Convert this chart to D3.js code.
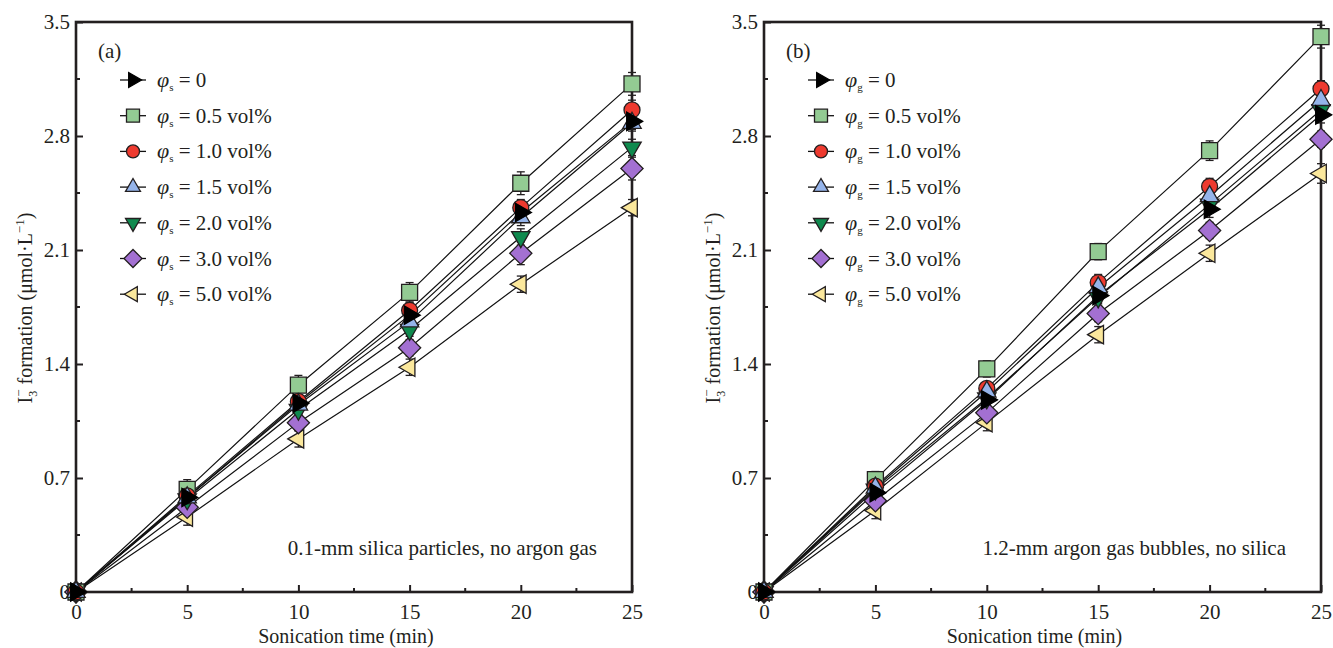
<!DOCTYPE html>
<html>
<head>
<meta charset="utf-8">
<script src="https://cdn.jsdelivr.net/npm/d3@7"></script>
<style>
  body { margin: 0; background: #fff; }
  svg { display: block; font-family: "Liberation Serif", "Times New Roman", serif; }
  .tick text { font-family: "Liberation Serif", "Times New Roman", serif; font-size: 21px; fill: #231f20; }
</style>
</head>
<body>
<script>
// sonication time (min)
var times = [0, 5, 10, 15, 20, 25];
var xTickValues = [0, 5, 10, 15, 20, 25];
var yTickValues = [0, 0.7, 1.4, 2.1, 2.8, 3.5];

// legend text + marker look (same order in both panels)
var legendLabels = ["0", "0.5 vol%", "1.0 vol%", "1.5 vol%", "2.0 vol%", "3.0 vol%", "5.0 vol%"];
var fills = ["#000000", "#93cb93", "#ee3a2f", "#95b4ea", "#0f8a4e", "#a370d2", "#fbe89c"];
var shapes = ["right", "square", "circle", "up", "down", "diamond", "left"];

// (a) silica particles, no argon gas
var silica0   = [0, 0.58, 1.16, 1.70, 2.33, 2.89];
var silica05  = [0, 0.63, 1.27, 1.84, 2.51, 3.12];
var silica10  = [0, 0.59, 1.17, 1.73, 2.36, 2.96];
var silica15  = [0, 0.58, 1.15, 1.66, 2.30, 2.88];
var silica20  = [0, 0.57, 1.12, 1.61, 2.18, 2.73];
var silica30  = [0, 0.52, 1.04, 1.50, 2.08, 2.60];
var silica50  = [0, 0.46, 0.94, 1.38, 1.89, 2.36];

// (b) argon gas bubbles, no silica
var gas0   = [0, 0.61, 1.18, 1.82, 2.35, 2.93];
var gas05  = [0, 0.69, 1.37, 2.09, 2.71, 3.41];
var gas10  = [0, 0.65, 1.25, 1.90, 2.49, 3.09];
var gas15  = [0, 0.64, 1.23, 1.87, 2.43, 3.02];
var gas20  = [0, 0.63, 1.19, 1.81, 2.38, 2.96];
var gas30  = [0, 0.56, 1.10, 1.71, 2.22, 2.78];
var gas50  = [0, 0.50, 1.04, 1.58, 2.08, 2.57];

// error bars (half heights)
var silicaErr = [
  [0, 0.04, 0.04, 0.04, 0.05, 0.05],
  [0, 0.06, 0.06, 0.06, 0.07, 0.07],
  [0, 0.04, 0.04, 0.05, 0.05, 0.06],
  [0, 0.04, 0.04, 0.04, 0.05, 0.05],
  [0, 0.04, 0.04, 0.04, 0.05, 0.05],
  [0, 0.04, 0.05, 0.05, 0.07, 0.07],
  [0, 0.05, 0.05, 0.05, 0.05, 0.05]
];
var gasErr = [
  [0, 0.04, 0.04, 0.04, 0.05, 0.05],
  [0, 0.05, 0.05, 0.05, 0.06, 0.07],
  [0, 0.04, 0.04, 0.05, 0.05, 0.05],
  [0, 0.04, 0.04, 0.04, 0.05, 0.05],
  [0, 0.04, 0.04, 0.04, 0.05, 0.05],
  [0, 0.04, 0.04, 0.05, 0.05, 0.05],
  [0, 0.05, 0.05, 0.05, 0.05, 0.06]
];

var panels = [
  { tag: "(a)", sub: "s", note: "0.1-mm silica particles, no argon gas",
    series: [silica0, silica05, silica10, silica15, silica20, silica30, silica50], err: silicaErr,
    left: 76, right: 632 },
  { tag: "(b)", sub: "g", note: "1.2-mm argon gas bubbles, no silica",
    series: [gas0, gas05, gas10, gas15, gas20, gas30, gas50], err: gasErr,
    left: 764, right: 1321 }
];

var W = 1333, H = 648, plotTop = 22, plotBottom = 592;
var ink = "#231f20";
var drawOrder = [6, 5, 4, 1, 2, 3, 0];

var svg = d3.select("body").append("svg")
    .attr("width", W)
    .attr("height", H);

function marker(sel, shape, size) {
  var sym, rot = 0;
  if (shape === "square") { sym = d3.symbolSquare; }
  else if (shape === "circle") { sym = d3.symbolCircle; }
  else if (shape === "diamond") { sym = d3.symbolSquare; rot = 45; }
  else { sym = d3.symbolTriangle; rot = {up: 0, down: 180, right: 90, left: -90}[shape]; }
  var area = size * size;
  if (shape === "circle") area = Math.PI * size * size / 4;
  if (sym === d3.symbolTriangle) area = Math.sqrt(3) / 4 * Math.pow(size * 1.15, 2);
  if (shape === "diamond") area = Math.pow(size * 0.98, 2);
  sel.append("path")
    .attr("d", d3.symbol().type(sym).size(area)())
    .attr("transform", "rotate(" + rot + ")");
}

panels.forEach(function(p) {
  var x = d3.scaleLinear().domain([0, 25]).range([p.left, p.right]);
  var y = d3.scaleLinear().domain([0, 3.5]).range([plotBottom, plotTop]);
  var g = svg.append("g");

  // minor ticks
  var xMinor = d3.range(2.5, 25, 5), yMinor = d3.range(0.35, 3.5, 0.7);
  g.selectAll(".xminor").data(xMinor).enter().append("line")
      .attr("x1", function(d) { return x(d); }).attr("x2", function(d) { return x(d); })
      .attr("y1", plotBottom).attr("y2", plotBottom - 4)
      .attr("stroke", ink).attr("stroke-width", 2);
  g.selectAll(".yminor").data(yMinor).enter().append("line")
      .attr("y1", function(d) { return y(d); }).attr("y2", function(d) { return y(d); })
      .attr("x1", p.left).attr("x2", p.left + 4)
      .attr("stroke", ink).attr("stroke-width", 2);

  // axes (ticks inward)
  var xAxis = g.append("g")
      .attr("transform", "translate(0," + plotBottom + ")")
      .call(d3.axisBottom(x).tickValues(xTickValues).tickSizeInner(-7).tickSizeOuter(0).tickPadding(12));
  var yAxis = g.append("g")
      .attr("transform", "translate(" + p.left + ",0)")
      .call(d3.axisLeft(y).tickValues(yTickValues).tickSizeInner(-7).tickSizeOuter(0).tickPadding(6)
            .tickFormat(function(d) { return d === 0 ? "0" : d3.format(".1f")(d); }));
  [xAxis, yAxis].forEach(function(a) {
    a.select(".domain").remove();
    a.selectAll(".tick line").attr("stroke", ink).attr("stroke-width", 2);
  });

  // frame
  g.append("rect")
      .attr("x", p.left).attr("y", plotTop)
      .attr("width", p.right - p.left).attr("height", plotBottom - plotTop)
      .attr("fill", "none").attr("stroke", ink).attr("stroke-width", 2.6);

  // axis titles
  g.append("text")
      .attr("x", (p.left + p.right) / 2 - 8).attr("y", 643)
      .attr("text-anchor", "middle").attr("font-size", 20).attr("fill", ink)
      .text("Sonication time (min)");
  var yl = g.append("text")
      .attr("transform", "translate(" + (p.left - 44) + ",308) rotate(-90)")
      .attr("text-anchor", "middle").attr("font-size", 20).attr("fill", ink);
  yl.append("tspan").text("I");
  yl.append("tspan").attr("font-size", 12).attr("dy", 5).text("3");
  yl.append("tspan").attr("font-size", 13).attr("dx", -6).attr("dy", -14).text("−");
  yl.append("tspan").attr("dy", 9).text(" formation (μmol·L");
  yl.append("tspan").attr("font-size", 13).attr("dy", -8).text("−1");
  yl.append("tspan").attr("dy", 8).text(")");

  // connecting lines
  var line = d3.line().x(function(d, i) { return x(times[i]); }).y(function(d) { return y(d); });
  drawOrder.forEach(function(k) {
    g.append("path").datum(p.series[k])
        .attr("d", line)
        .attr("fill", "none").attr("stroke", "#111").attr("stroke-width", 1.2);
  });

  // error bars
  drawOrder.forEach(function(k) {
    var pts = p.series[k].map(function(v, i) { return {t: times[i], v: v, e: p.err[k][i]}; })
        .filter(function(d) { return d.e > 0; });
    var eb = g.append("g").attr("stroke", ink).attr("stroke-width", 1.3);
    eb.selectAll("line.v").data(pts).enter().append("line")
        .attr("x1", function(d) { return x(d.t); }).attr("x2", function(d) { return x(d.t); })
        .attr("y1", function(d) { return y(d.v - d.e); }).attr("y2", function(d) { return y(d.v + d.e); });
    [-1, 1].forEach(function(s) {
      eb.selectAll("line.c" + s).data(pts).enter().append("line")
          .attr("x1", function(d) { return x(d.t) - 4; }).attr("x2", function(d) { return x(d.t) + 4; })
          .attr("y1", function(d) { return y(d.v + s * d.e); }).attr("y2", function(d) { return y(d.v + s * d.e); });
    });
  });

  // markers
  drawOrder.forEach(function(k) {
    var m = g.selectAll(null).data(p.series[k]).enter().append("g")
        .attr("transform", function(d, i) { return "translate(" + x(times[i]) + "," + y(d) + ")"; })
        .attr("fill", fills[k]).attr("stroke", k === 0 ? "#000" : ink).attr("stroke-width", 1.3);
    m.each(function() { marker(d3.select(this), shapes[k], 16); });
  });

  // panel tag
  g.append("text")
      .attr("x", p.left + 22).attr("y", 58)
      .attr("font-size", 21).attr("fill", ink).text(p.tag);

  // legend
  var lx = p.left + 57;
  var leg = g.selectAll(".legend").data(legendLabels).enter().append("g")
      .attr("transform", function(d, i) { return "translate(" + lx + "," + (80 + i * 35.7) + ")"; });
  leg.append("line").attr("x1", -13).attr("x2", 13)
      .attr("stroke", "#111").attr("stroke-width", 1.3);
  leg.each(function(d, i) {
    var s = d3.select(this).append("g")
        .attr("fill", fills[i]).attr("stroke", i === 0 ? "#000" : ink).attr("stroke-width", 1.3);
    marker(s, shapes[i], 13);
  });
  var lt = leg.append("text").attr("x", 24).attr("y", 7)
      .attr("font-size", 21).attr("fill", ink);
  lt.append("tspan").attr("font-style", "italic").attr("font-size", 22).text("φ");
  lt.append("tspan").attr("font-size", 11).attr("dy", 4).text(p.sub);
  lt.append("tspan").attr("dy", -4).text(function(d) { return " = " + d; });

  // note
  g.append("text")
      .attr("x", p.right - 35).attr("y", 555)
      .attr("text-anchor", "end").attr("font-size", 21).attr("fill", ink)
      .text(p.note);
});
</script>
</body>
</html>
